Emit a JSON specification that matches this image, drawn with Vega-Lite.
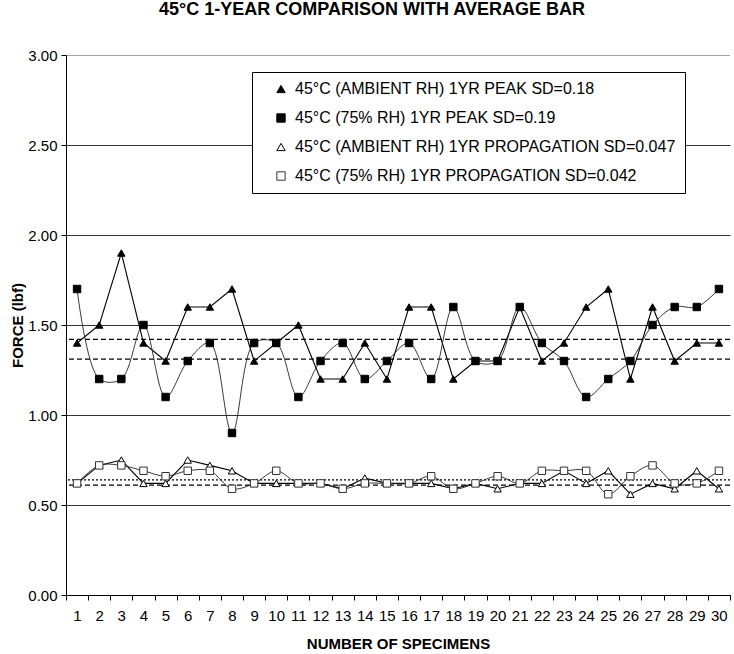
{
  "$schema": "https://vega.github.io/schema/vega-lite/v6.json",
  "width": 664,
  "height": 540,
  "autosize": {"type": "none"},
  "padding": {"left": 66, "top": 55, "right": 4, "bottom": 59},
  "background": "white",
  "config": {
    "font": "Liberation Sans",
    "view": {"stroke": null},
    "axis": {"labelFont": "Liberation Sans", "titleFont": "Liberation Sans", "labelColor": "black", "titleColor": "black", "domainColor": "black", "tickColor": "black"},
    "legend": {"symbolStrokeColor": "black", "symbolStrokeWidth": 1}
  },
  "title": {
    "text": "45°C 1-YEAR COMPARISON WITH AVERAGE BAR",
    "fontSize": 18,
    "fontWeight": "bold",
    "font": "Liberation Sans",
    "anchor": "middle",
    "dx": -26,
    "offset": 29,
    "color": "black"
  },
  "datasets": {
    "series": [
      {"specimen": 1, "series": "45°C (AMBIENT RH) 1YR PEAK SD=0.18", "force": 1.4},
      {"specimen": 2, "series": "45°C (AMBIENT RH) 1YR PEAK SD=0.18", "force": 1.5},
      {"specimen": 3, "series": "45°C (AMBIENT RH) 1YR PEAK SD=0.18", "force": 1.9},
      {"specimen": 4, "series": "45°C (AMBIENT RH) 1YR PEAK SD=0.18", "force": 1.4},
      {"specimen": 5, "series": "45°C (AMBIENT RH) 1YR PEAK SD=0.18", "force": 1.3},
      {"specimen": 6, "series": "45°C (AMBIENT RH) 1YR PEAK SD=0.18", "force": 1.6},
      {"specimen": 7, "series": "45°C (AMBIENT RH) 1YR PEAK SD=0.18", "force": 1.6},
      {"specimen": 8, "series": "45°C (AMBIENT RH) 1YR PEAK SD=0.18", "force": 1.7},
      {"specimen": 9, "series": "45°C (AMBIENT RH) 1YR PEAK SD=0.18", "force": 1.3},
      {"specimen": 10, "series": "45°C (AMBIENT RH) 1YR PEAK SD=0.18", "force": 1.4},
      {"specimen": 11, "series": "45°C (AMBIENT RH) 1YR PEAK SD=0.18", "force": 1.5},
      {"specimen": 12, "series": "45°C (AMBIENT RH) 1YR PEAK SD=0.18", "force": 1.2},
      {"specimen": 13, "series": "45°C (AMBIENT RH) 1YR PEAK SD=0.18", "force": 1.2},
      {"specimen": 14, "series": "45°C (AMBIENT RH) 1YR PEAK SD=0.18", "force": 1.4},
      {"specimen": 15, "series": "45°C (AMBIENT RH) 1YR PEAK SD=0.18", "force": 1.2},
      {"specimen": 16, "series": "45°C (AMBIENT RH) 1YR PEAK SD=0.18", "force": 1.6},
      {"specimen": 17, "series": "45°C (AMBIENT RH) 1YR PEAK SD=0.18", "force": 1.6},
      {"specimen": 18, "series": "45°C (AMBIENT RH) 1YR PEAK SD=0.18", "force": 1.2},
      {"specimen": 19, "series": "45°C (AMBIENT RH) 1YR PEAK SD=0.18", "force": 1.3},
      {"specimen": 20, "series": "45°C (AMBIENT RH) 1YR PEAK SD=0.18", "force": 1.3},
      {"specimen": 21, "series": "45°C (AMBIENT RH) 1YR PEAK SD=0.18", "force": 1.6},
      {"specimen": 22, "series": "45°C (AMBIENT RH) 1YR PEAK SD=0.18", "force": 1.3},
      {"specimen": 23, "series": "45°C (AMBIENT RH) 1YR PEAK SD=0.18", "force": 1.4},
      {"specimen": 24, "series": "45°C (AMBIENT RH) 1YR PEAK SD=0.18", "force": 1.6},
      {"specimen": 25, "series": "45°C (AMBIENT RH) 1YR PEAK SD=0.18", "force": 1.7},
      {"specimen": 26, "series": "45°C (AMBIENT RH) 1YR PEAK SD=0.18", "force": 1.2},
      {"specimen": 27, "series": "45°C (AMBIENT RH) 1YR PEAK SD=0.18", "force": 1.6},
      {"specimen": 28, "series": "45°C (AMBIENT RH) 1YR PEAK SD=0.18", "force": 1.3},
      {"specimen": 29, "series": "45°C (AMBIENT RH) 1YR PEAK SD=0.18", "force": 1.4},
      {"specimen": 30, "series": "45°C (AMBIENT RH) 1YR PEAK SD=0.18", "force": 1.4},
      {"specimen": 1, "series": "45°C (75% RH) 1YR PEAK SD=0.19", "force": 1.7},
      {"specimen": 2, "series": "45°C (75% RH) 1YR PEAK SD=0.19", "force": 1.2},
      {"specimen": 3, "series": "45°C (75% RH) 1YR PEAK SD=0.19", "force": 1.2},
      {"specimen": 4, "series": "45°C (75% RH) 1YR PEAK SD=0.19", "force": 1.5},
      {"specimen": 5, "series": "45°C (75% RH) 1YR PEAK SD=0.19", "force": 1.1},
      {"specimen": 6, "series": "45°C (75% RH) 1YR PEAK SD=0.19", "force": 1.3},
      {"specimen": 7, "series": "45°C (75% RH) 1YR PEAK SD=0.19", "force": 1.4},
      {"specimen": 8, "series": "45°C (75% RH) 1YR PEAK SD=0.19", "force": 0.9},
      {"specimen": 9, "series": "45°C (75% RH) 1YR PEAK SD=0.19", "force": 1.4},
      {"specimen": 10, "series": "45°C (75% RH) 1YR PEAK SD=0.19", "force": 1.4},
      {"specimen": 11, "series": "45°C (75% RH) 1YR PEAK SD=0.19", "force": 1.1},
      {"specimen": 12, "series": "45°C (75% RH) 1YR PEAK SD=0.19", "force": 1.3},
      {"specimen": 13, "series": "45°C (75% RH) 1YR PEAK SD=0.19", "force": 1.4},
      {"specimen": 14, "series": "45°C (75% RH) 1YR PEAK SD=0.19", "force": 1.2},
      {"specimen": 15, "series": "45°C (75% RH) 1YR PEAK SD=0.19", "force": 1.3},
      {"specimen": 16, "series": "45°C (75% RH) 1YR PEAK SD=0.19", "force": 1.4},
      {"specimen": 17, "series": "45°C (75% RH) 1YR PEAK SD=0.19", "force": 1.2},
      {"specimen": 18, "series": "45°C (75% RH) 1YR PEAK SD=0.19", "force": 1.6},
      {"specimen": 19, "series": "45°C (75% RH) 1YR PEAK SD=0.19", "force": 1.3},
      {"specimen": 20, "series": "45°C (75% RH) 1YR PEAK SD=0.19", "force": 1.3},
      {"specimen": 21, "series": "45°C (75% RH) 1YR PEAK SD=0.19", "force": 1.6},
      {"specimen": 22, "series": "45°C (75% RH) 1YR PEAK SD=0.19", "force": 1.4},
      {"specimen": 23, "series": "45°C (75% RH) 1YR PEAK SD=0.19", "force": 1.3},
      {"specimen": 24, "series": "45°C (75% RH) 1YR PEAK SD=0.19", "force": 1.1},
      {"specimen": 25, "series": "45°C (75% RH) 1YR PEAK SD=0.19", "force": 1.2},
      {"specimen": 26, "series": "45°C (75% RH) 1YR PEAK SD=0.19", "force": 1.3},
      {"specimen": 27, "series": "45°C (75% RH) 1YR PEAK SD=0.19", "force": 1.5},
      {"specimen": 28, "series": "45°C (75% RH) 1YR PEAK SD=0.19", "force": 1.6},
      {"specimen": 29, "series": "45°C (75% RH) 1YR PEAK SD=0.19", "force": 1.6},
      {"specimen": 30, "series": "45°C (75% RH) 1YR PEAK SD=0.19", "force": 1.7},
      {"specimen": 1, "series": "45°C (AMBIENT RH) 1YR PROPAGATION SD=0.047", "force": 0.62},
      {"specimen": 2, "series": "45°C (AMBIENT RH) 1YR PROPAGATION SD=0.047", "force": 0.72},
      {"specimen": 3, "series": "45°C (AMBIENT RH) 1YR PROPAGATION SD=0.047", "force": 0.75},
      {"specimen": 4, "series": "45°C (AMBIENT RH) 1YR PROPAGATION SD=0.047", "force": 0.62},
      {"specimen": 5, "series": "45°C (AMBIENT RH) 1YR PROPAGATION SD=0.047", "force": 0.62},
      {"specimen": 6, "series": "45°C (AMBIENT RH) 1YR PROPAGATION SD=0.047", "force": 0.75},
      {"specimen": 7, "series": "45°C (AMBIENT RH) 1YR PROPAGATION SD=0.047", "force": 0.72},
      {"specimen": 8, "series": "45°C (AMBIENT RH) 1YR PROPAGATION SD=0.047", "force": 0.69},
      {"specimen": 9, "series": "45°C (AMBIENT RH) 1YR PROPAGATION SD=0.047", "force": 0.62},
      {"specimen": 10, "series": "45°C (AMBIENT RH) 1YR PROPAGATION SD=0.047", "force": 0.62},
      {"specimen": 11, "series": "45°C (AMBIENT RH) 1YR PROPAGATION SD=0.047", "force": 0.62},
      {"specimen": 12, "series": "45°C (AMBIENT RH) 1YR PROPAGATION SD=0.047", "force": 0.62},
      {"specimen": 13, "series": "45°C (AMBIENT RH) 1YR PROPAGATION SD=0.047", "force": 0.59},
      {"specimen": 14, "series": "45°C (AMBIENT RH) 1YR PROPAGATION SD=0.047", "force": 0.65},
      {"specimen": 15, "series": "45°C (AMBIENT RH) 1YR PROPAGATION SD=0.047", "force": 0.62},
      {"specimen": 16, "series": "45°C (AMBIENT RH) 1YR PROPAGATION SD=0.047", "force": 0.62},
      {"specimen": 17, "series": "45°C (AMBIENT RH) 1YR PROPAGATION SD=0.047", "force": 0.62},
      {"specimen": 18, "series": "45°C (AMBIENT RH) 1YR PROPAGATION SD=0.047", "force": 0.59},
      {"specimen": 19, "series": "45°C (AMBIENT RH) 1YR PROPAGATION SD=0.047", "force": 0.62},
      {"specimen": 20, "series": "45°C (AMBIENT RH) 1YR PROPAGATION SD=0.047", "force": 0.59},
      {"specimen": 21, "series": "45°C (AMBIENT RH) 1YR PROPAGATION SD=0.047", "force": 0.62},
      {"specimen": 22, "series": "45°C (AMBIENT RH) 1YR PROPAGATION SD=0.047", "force": 0.62},
      {"specimen": 23, "series": "45°C (AMBIENT RH) 1YR PROPAGATION SD=0.047", "force": 0.69},
      {"specimen": 24, "series": "45°C (AMBIENT RH) 1YR PROPAGATION SD=0.047", "force": 0.62},
      {"specimen": 25, "series": "45°C (AMBIENT RH) 1YR PROPAGATION SD=0.047", "force": 0.69},
      {"specimen": 26, "series": "45°C (AMBIENT RH) 1YR PROPAGATION SD=0.047", "force": 0.56},
      {"specimen": 27, "series": "45°C (AMBIENT RH) 1YR PROPAGATION SD=0.047", "force": 0.62},
      {"specimen": 28, "series": "45°C (AMBIENT RH) 1YR PROPAGATION SD=0.047", "force": 0.59},
      {"specimen": 29, "series": "45°C (AMBIENT RH) 1YR PROPAGATION SD=0.047", "force": 0.69},
      {"specimen": 30, "series": "45°C (AMBIENT RH) 1YR PROPAGATION SD=0.047", "force": 0.59},
      {"specimen": 1, "series": "45°C (75%  RH) 1YR PROPAGATION SD=0.042", "force": 0.62},
      {"specimen": 2, "series": "45°C (75%  RH) 1YR PROPAGATION SD=0.042", "force": 0.72},
      {"specimen": 3, "series": "45°C (75%  RH) 1YR PROPAGATION SD=0.042", "force": 0.72},
      {"specimen": 4, "series": "45°C (75%  RH) 1YR PROPAGATION SD=0.042", "force": 0.69},
      {"specimen": 5, "series": "45°C (75%  RH) 1YR PROPAGATION SD=0.042", "force": 0.66},
      {"specimen": 6, "series": "45°C (75%  RH) 1YR PROPAGATION SD=0.042", "force": 0.69},
      {"specimen": 7, "series": "45°C (75%  RH) 1YR PROPAGATION SD=0.042", "force": 0.69},
      {"specimen": 8, "series": "45°C (75%  RH) 1YR PROPAGATION SD=0.042", "force": 0.59},
      {"specimen": 9, "series": "45°C (75%  RH) 1YR PROPAGATION SD=0.042", "force": 0.62},
      {"specimen": 10, "series": "45°C (75%  RH) 1YR PROPAGATION SD=0.042", "force": 0.69},
      {"specimen": 11, "series": "45°C (75%  RH) 1YR PROPAGATION SD=0.042", "force": 0.62},
      {"specimen": 12, "series": "45°C (75%  RH) 1YR PROPAGATION SD=0.042", "force": 0.62},
      {"specimen": 13, "series": "45°C (75%  RH) 1YR PROPAGATION SD=0.042", "force": 0.59},
      {"specimen": 14, "series": "45°C (75%  RH) 1YR PROPAGATION SD=0.042", "force": 0.62},
      {"specimen": 15, "series": "45°C (75%  RH) 1YR PROPAGATION SD=0.042", "force": 0.62},
      {"specimen": 16, "series": "45°C (75%  RH) 1YR PROPAGATION SD=0.042", "force": 0.62},
      {"specimen": 17, "series": "45°C (75%  RH) 1YR PROPAGATION SD=0.042", "force": 0.66},
      {"specimen": 18, "series": "45°C (75%  RH) 1YR PROPAGATION SD=0.042", "force": 0.59},
      {"specimen": 19, "series": "45°C (75%  RH) 1YR PROPAGATION SD=0.042", "force": 0.62},
      {"specimen": 20, "series": "45°C (75%  RH) 1YR PROPAGATION SD=0.042", "force": 0.66},
      {"specimen": 21, "series": "45°C (75%  RH) 1YR PROPAGATION SD=0.042", "force": 0.62},
      {"specimen": 22, "series": "45°C (75%  RH) 1YR PROPAGATION SD=0.042", "force": 0.69},
      {"specimen": 23, "series": "45°C (75%  RH) 1YR PROPAGATION SD=0.042", "force": 0.69},
      {"specimen": 24, "series": "45°C (75%  RH) 1YR PROPAGATION SD=0.042", "force": 0.69},
      {"specimen": 25, "series": "45°C (75%  RH) 1YR PROPAGATION SD=0.042", "force": 0.56},
      {"specimen": 26, "series": "45°C (75%  RH) 1YR PROPAGATION SD=0.042", "force": 0.66},
      {"specimen": 27, "series": "45°C (75%  RH) 1YR PROPAGATION SD=0.042", "force": 0.72},
      {"specimen": 28, "series": "45°C (75%  RH) 1YR PROPAGATION SD=0.042", "force": 0.62},
      {"specimen": 29, "series": "45°C (75%  RH) 1YR PROPAGATION SD=0.042", "force": 0.62},
      {"specimen": 30, "series": "45°C (75%  RH) 1YR PROPAGATION SD=0.042", "force": 0.69}
    ],
    "averages": [
      {"group": "ambient peak", "average": 1.42, "style": "dash"},
      {"group": "75% peak", "average": 1.31, "style": "dash"},
      {"group": "ambient propagation", "average": 0.64, "style": "dot"},
      {"group": "75% propagation", "average": 0.61, "style": "dash"}
    ]
  },
  "encoding": {
    "x": {
      "field": "specimen",
      "type": "quantitative",
      "title": "NUMBER OF SPECIMENS",
      "scale": {"domain": [0.5, 30.5], "nice": false, "zero": false},
      "axis": {
        "values": [0.5, 1.5, 2.5, 3.5, 4.5, 5.5, 6.5, 7.5, 8.5, 9.5, 10.5, 11.5, 12.5, 13.5, 14.5, 15.5, 16.5, 17.5, 18.5, 19.5, 20.5, 21.5, 22.5, 23.5, 24.5, 25.5, 26.5, 27.5, 28.5, 29.5, 30.5],
        "labelExpr": "datum.value < 30 ? format(datum.value + 0.5, 'd') : ''",
        "labelOffset": 11,
        "labelFontSize": 15,
        "labelPadding": 8,
        "labelOverlap": false,
        "labelFlush": false,
        "labelBound": false,
        "tickSize": 5,
        "grid": false,
        "titleFontSize": 15,
        "titleFontWeight": "bold",
        "titlePadding": 13
      }
    },
    "y": {
      "field": "force",
      "type": "quantitative",
      "title": "FORCE (lbf)",
      "scale": {"domain": [0, 3], "nice": false},
      "axis": {
        "values": [0, 0.5, 1, 1.5, 2, 2.5, 3],
        "format": ".2f",
        "labelFontSize": 15,
        "labelPadding": 4,
        "tickSize": 5,
        "grid": true,
        "gridColor": {"condition": {"test": "datum.value == 3", "value": "#444"}, "value": "#333"},
        "gridDash": {"condition": {"test": "datum.value == 3", "value": [1, 1]}, "value": []},
        "gridWidth": 1,
        "titleFontSize": 15,
        "titleFontWeight": "bold",
        "titlePadding": 2
      }
    }
  },
  "layer": [
    {
      "data": {"name": "averages"},
      "mark": {"type": "rule", "color": "black", "strokeWidth": 1.2},
      "encoding": {
        "x": null,
        "y": {"field": "average", "type": "quantitative"},
        "strokeDash": {"field": "style", "type": "nominal", "scale": {"domain": ["dash", "dot"], "range": [[5, 3], [2, 2]]}, "legend": null}
      }
    },
    {
      "data": {"name": "series"},
      "transform": [{"filter": {"field": "series", "oneOf": ["45°C (AMBIENT RH) 1YR PEAK SD=0.18", "45°C (AMBIENT RH) 1YR PROPAGATION SD=0.047"]}}],
      "mark": {"type": "line", "color": "black", "strokeWidth": 1.1},
      "encoding": {
        "detail": {"field": "series"}
      }
    },
    {
      "data": {"name": "series"},
      "transform": [{"filter": {"field": "series", "oneOf": ["45°C (75% RH) 1YR PEAK SD=0.19", "45°C (75%  RH) 1YR PROPAGATION SD=0.042"]}}],
      "mark": {"type": "line", "color": "#222", "strokeWidth": 0.9, "interpolate": "catmull-rom"},
      "encoding": {
        "detail": {"field": "series"}
      }
    },
    {
      "data": {"name": "series"},
      "mark": {"type": "point", "size": 55, "strokeWidth": 1, "opacity": 1},
      "encoding": {
        "shape": {
          "field": "series",
          "type": "nominal",
          "title": null,
          "scale": {
            "domain": ["45°C (AMBIENT RH) 1YR PEAK SD=0.18", "45°C (75% RH) 1YR PEAK SD=0.19", "45°C (AMBIENT RH) 1YR PROPAGATION SD=0.047", "45°C (75%  RH) 1YR PROPAGATION SD=0.042"],
            "range": ["triangle-up", "square", "triangle-up", "square"]
          },
          "legend": {
            "orient": "none",
            "legendX": 186,
            "legendY": 17,
            "fillColor": "white",
            "strokeColor": "black",
            "padding": 9,
            "symbolOffset": 12,
            "symbolSize": 70,
            "labelFontSize": 16,
            "labelFont": "Liberation Sans",
            "labelColor": "black",
            "labelLimit": 500,
            "labelOffset": 6,
            "rowPadding": 13,
            "symbolStrokeColor": "black",
            "symbolStrokeWidth": 1
          }
        },
        "fill": {
          "field": "series",
          "type": "nominal",
          "title": null,
          "scale": {
            "domain": ["45°C (AMBIENT RH) 1YR PEAK SD=0.18", "45°C (75% RH) 1YR PEAK SD=0.19", "45°C (AMBIENT RH) 1YR PROPAGATION SD=0.047", "45°C (75%  RH) 1YR PROPAGATION SD=0.042"],
            "range": ["black", "black", "white", "white"]
          }
        },
        "stroke": {
          "field": "series",
          "type": "nominal",
          "title": null,
          "scale": {
            "domain": ["45°C (AMBIENT RH) 1YR PEAK SD=0.18", "45°C (75% RH) 1YR PEAK SD=0.19", "45°C (AMBIENT RH) 1YR PROPAGATION SD=0.047", "45°C (75%  RH) 1YR PROPAGATION SD=0.042"],
            "range": ["black", "black", "black", "#333"]
          }
        }
      }
    }
  ]
}
